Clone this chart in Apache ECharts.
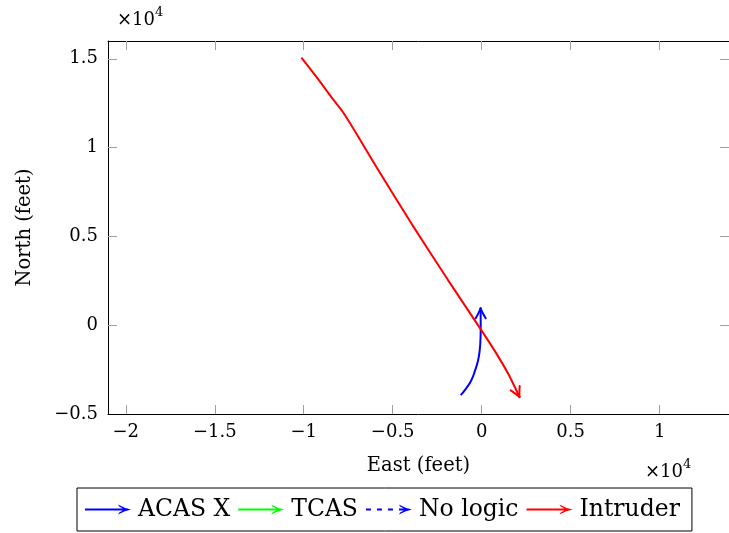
<!DOCTYPE html>
<html><head><meta charset="utf-8">
<script src="https://cdn.jsdelivr.net/npm/echarts@6/dist/echarts.min.js"></script>
<style>html,body{margin:0;padding:0;background:#fff}#c{width:729px;height:533px}</style>
</head><body><div id="c"></div>
<script>
// ---- data (feet) ----
const xTicks = [-20000, -15000, -10000, -5000, 0, 5000, 10000];
const yTicks = [-5000, 0, 5000, 10000, 15000];
const acasX = [-1180, -900, -580, -365, -200, -110, -70, -55, -55, -60];
const acasY = [-3940, -3600, -3100, -2530, -1970, -1410, -850, -280, 390, 950];
const tcasX = [];
const tcasY = [];
const noLogicX = [];
const noLogicY = [];
const intrX = [-10130, -9200, -8350, -7800, -7000, -5880, -3900, -1890, -20, 830, 1500, 2130];
const intrY = [15070, 13870, 12710, 12000, 10720, 8850, 5650, 2540, -280, -1600, -2750, -4050];
const names = ['ACAS X', 'TCAS', 'No logic', 'Intruder'];
const colors = ['#0000ff', '#00ff00', '#0000ff', '#ff0000'];

const FONT = 'DejaVu Serif';
function fmt(v) { return String(v / 10000).replace('-', '\u2212'); }
function pairs(xs, ys) { return xs.map((x, i) => [x, ys[i]]); }
function tail(xs, ys) { const n = xs.length; return n < 2 ? [] : [[xs[n-2], ys[n-2], xs[n-1], ys[n-1]]]; }

function arrowRender(color) {
  return function (params, api) {
    const a = api.coord([api.value(0), api.value(1)]);
    const b = api.coord([api.value(2), api.value(3)]);
    const ang = Math.atan2(b[1] - a[1], b[0] - a[0]);
    const c = Math.cos(ang), s = Math.sin(ang);
    const P = (u, v) => [b[0] + u * c - v * s, b[1] + u * s + v * c];
    const w1 = P(-10, -5), k1 = P(-3, -1), w2 = P(-10, 5), k2 = P(-3, 1);
    const st = { stroke: color, fill: null, lineWidth: 2, lineCap: 'round' };
    return {
      type: 'group',
      children: [
        { type: 'bezierCurve', shape: { x1: w1[0], y1: w1[1], x2: b[0], y2: b[1], cpx1: k1[0], cpy1: k1[1] }, style: st },
        { type: 'bezierCurve', shape: { x1: w2[0], y1: w2[1], x2: b[0], y2: b[1], cpx1: k2[0], cpy1: k2[1] }, style: st }
      ]
    };
  };
}

const headPath = 'M33,1 Q39,4.6 46,6 Q39,7.4 33,11 L34.2,9 Q38,6.6 41.5,6 Q38,5.4 34.2,3 Z';
const solidIcon = 'path://M0,5 L43,5 L43,7 L0,7 Z ' + headPath;
const dashIcon = 'path://M0,5 L5,5 L5,7 L0,7 Z M11,5 L16,5 L16,7 L11,7 Z M22,5 L27,5 L27,7 L22,7 Z M33,5 L43,5 L43,7 L33,7 Z ' + headPath;

const xMin = -21000, xMax = 13900, yMin = -5000, yMax = 16000;
// tick marks that would sit on the frame itself are left out
const xTickMarks = xTicks.filter(v => v > xMin && v < xMax);
const yTickMarks = yTicks.filter(v => v > yMin && v < yMax);

const axisCommon = {
  type: 'value',
  axisLine: { show: true, onZero: false, lineStyle: { color: '#000', width: 1 } },
  splitLine: { show: false },
};
const tickStyle = { show: true, inside: true, length: 9, lineStyle: { color: '#a0a0a0', width: 1 } };

const option = {
  animation: false,
  backgroundColor: '#fff',
  grid: { left: 108, right: -1, top: 41, bottom: 119, containLabel: false },
  xAxis: [
    Object.assign({}, axisCommon, {
      position: 'bottom', min: xMin, max: xMax, z: 3,
      name: 'East (feet)', nameLocation: 'middle', nameGap: 42,
      nameTextStyle: { fontFamily: FONT, fontSize: 19.5, color: '#000' },
      axisTick: Object.assign({ customValues: xTickMarks }, tickStyle),
      axisLabel: { customValues: xTicks, formatter: fmt, margin: 9, fontFamily: FONT, fontSize: 18, color: '#000' }
    }),
    Object.assign({}, axisCommon, {
      position: 'top', min: xMin, max: xMax, z: 3,
      axisTick: Object.assign({ customValues: xTickMarks }, tickStyle),
      axisLabel: { show: false }
    })
  ],
  yAxis: [
    Object.assign({}, axisCommon, {
      position: 'left', min: yMin, max: yMax,
      name: 'North (feet)', nameLocation: 'middle', nameGap: 73, nameRotate: 90,
      nameTextStyle: { fontFamily: FONT, fontSize: 19.5, color: '#000' },
      axisTick: Object.assign({ customValues: yTickMarks }, tickStyle),
      axisLabel: { customValues: yTicks, formatter: fmt, margin: 10, fontFamily: FONT, fontSize: 18, color: '#000' }
    }),
    Object.assign({}, axisCommon, {
      position: 'right', min: yMin, max: yMax,
      axisTick: Object.assign({ customValues: yTickMarks }, tickStyle),
      axisLabel: { show: false }
    })
  ],
  legend: {
    left: 77, top: 488, orient: 'horizontal',
    data: [
      { name: names[0], icon: solidIcon },
      { name: names[1], icon: solidIcon },
      { name: names[2], icon: dashIcon },
      { name: names[3], icon: solidIcon }
    ],
    itemWidth: 46, itemHeight: 12, itemGap: 8,
    padding: [7, 12, 7, 8],
    borderColor: '#000', borderWidth: 1, borderRadius: 0,
    textStyle: { fontFamily: FONT, fontSize: 23.5, color: '#000', lineHeight: 29, padding: [0, 0, 0, 2] },
    selectedMode: false
  },
  graphic: [
    { type: 'text', left: 117, top: 11, style: { text: '\u00d710', fontFamily: FONT, fontSize: 18, fill: '#000' } },
    { type: 'text', left: 155, top: 6, style: { text: '4', fontFamily: FONT, fontSize: 13, fill: '#000' } },
    { type: 'text', left: 645, top: 463, style: { text: '\u00d710', fontFamily: FONT, fontSize: 18, fill: '#000' } },
    { type: 'text', left: 683, top: 458, style: { text: '4', fontFamily: FONT, fontSize: 13, fill: '#000' } }
  ],
  series: [
    { name: names[0], type: 'line', data: pairs(acasX, acasY), smooth: 0.5, showSymbol: false, symbol: 'none',
      lineStyle: { color: colors[0], width: 2 }, itemStyle: { color: colors[0] } },
    { name: names[1], type: 'line', data: pairs(tcasX, tcasY), showSymbol: false, symbol: 'none',
      lineStyle: { color: colors[1], width: 2 }, itemStyle: { color: colors[1] } },
    { name: names[2], type: 'line', data: pairs(noLogicX, noLogicY), showSymbol: false, symbol: 'none',
      lineStyle: { color: colors[2], width: 2, type: 'dashed' }, itemStyle: { color: colors[2] } },
    { name: names[3], type: 'line', data: pairs(intrX, intrY), smooth: 0.2, showSymbol: false, symbol: 'none',
      lineStyle: { color: colors[3], width: 2 }, itemStyle: { color: colors[3] } },
    { name: 'acas-head', type: 'custom', renderItem: arrowRender(colors[0]), data: tail(acasX, acasY), encode: { x: [0, 2], y: [1, 3] }, silent: true, z: 3 },
    { name: 'intr-head', type: 'custom', renderItem: arrowRender(colors[3]), data: tail(intrX, intrY), encode: { x: [0, 2], y: [1, 3] }, silent: true, z: 3 }
  ]
};
const chart = echarts.init(document.getElementById('c'), null, { renderer: 'canvas' });
chart.setOption(option);
</script></body></html>
